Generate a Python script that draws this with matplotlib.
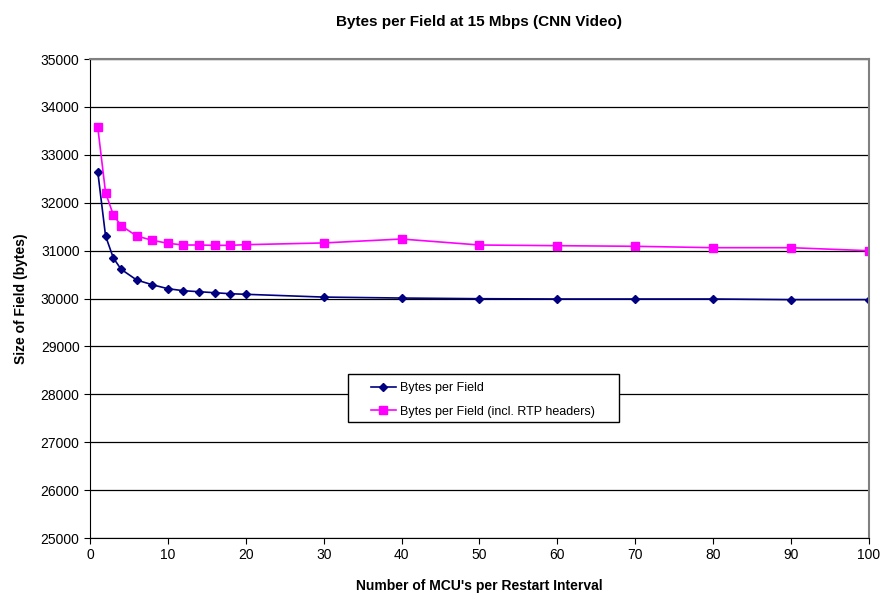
import numpy as np
import matplotlib
matplotlib.use("Agg")
import matplotlib.pyplot as plt
from matplotlib.patches import Rectangle

plt.rcParams['font.family'] = ['Liberation Sans', 'DejaVu Sans']

# MCUs per restart interval
mcus = [1, 2, 3, 4, 6, 8, 10, 12, 14, 16, 18, 20, 30, 40, 50, 60, 70, 80, 90, 100]
bytes_field = [32648, 31305, 30846, 30610, 30386, 30288, 30205, 30163, 30142, 30121,
               30100, 30088, 30030, 30010, 29996, 29990, 29990, 29990, 29976, 29976]
bytes_rtp = [33574, 32210, 31743, 31520, 31305, 31215, 31153, 31117, 31117, 31110,
             31110, 31124, 31160, 31242, 31117, 31103, 31090, 31061, 31061, 30998]

fig = plt.figure(figsize=(8.83, 5.93), dpi=100)
ax = fig.add_axes([0.1019, 0.0927, 0.8822, 0.8078])

ax.plot(mcus, bytes_field, color='#000080', marker='D', markersize=4.2, lw=1.2,
        label='Bytes per Field')
ax.plot(mcus, bytes_rtp, color='#FF00FF', marker='s', markersize=6, lw=1.2,
        label='Bytes per Field (incl. RTP headers)')

ax.set_xlim(0, 100)
ax.set_ylim(25000, 35000)
ax.set_xticks(np.arange(0, 101, 10))
ax.set_yticks(np.arange(25000, 35001, 1000))
ax.grid(axis='y', color='black', lw=0.9)
ax.set_axisbelow(True)
ax.tick_params(direction='out', length=4, labelsize=10, colors='black')
for s in ['top', 'right']:
    ax.spines[s].set_color('#808080')
    ax.spines[s].set_linewidth(1.5)
for s in ['left', 'bottom']:
    ax.spines[s].set_color('black')

ax.set_title('Bytes per Field at 15 Mbps (CNN Video)', fontsize=11, fontweight='bold', pad=24)
ax.set_xlabel("Number of MCU's per Restart Interval", fontsize=10, fontweight='bold', labelpad=12)
ax.set_ylabel('Size of Field (bytes)', fontsize=10, fontweight='bold', labelpad=9)

# legend box (Excel style, text inset from frame)
ax.add_patch(Rectangle((0.3308, 0.2415), 0.348, 0.1008, transform=ax.transAxes,
                       facecolor='white', edgecolor='black', lw=1.0, zorder=4))
leg = ax.legend(loc='center left', bbox_to_anchor=(0.3607, 0.2880), fontsize=9,
                frameon=False, handlelength=2.0, handletextpad=0.3,
                labelspacing=0.9, borderpad=0, borderaxespad=0)
leg.set_zorder(5)

fig.savefig('out.png', dpi=100)
